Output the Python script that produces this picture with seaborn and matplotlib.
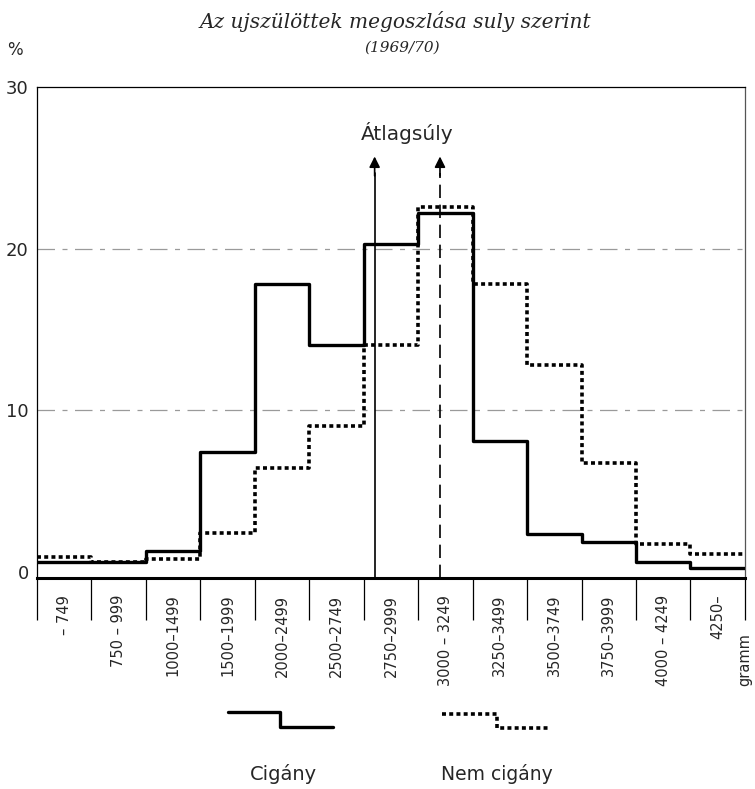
import numpy as np
import pandas as pd
import seaborn as sns
import matplotlib.pyplot as plt
from matplotlib.lines import Line2D

# weight classes (grams) and share of newborns (%)
categories = ["– 749", "750 – 999", "1000–1499", "1500–1999", "2000–2499",
              "2500–2749", "2750–2999", "3000 – 3249", "3250–3499",
              "3500–3749", "3750–3999", "4000 – 4249", "4250–"]
lower_edges = [0, 750, 1000, 1500, 2000, 2500, 2750, 3000, 3250, 3500, 3750, 4000, 4250, 4500]
cigany = [0.6, 0.6, 1.3, 7.4, 17.8, 14.0, 20.3, 22.2, 8.1, 2.3, 1.8, 0.6, 0.2]
nem_cigany = [0.9, 0.6, 0.8, 2.4, 6.4, 9.0, 14.0, 22.6, 17.8, 12.8, 6.7, 1.7, 1.1]
mean_weight = {"Cigány": 2800, "Nem cigány": 3100}
yticks = [0, 10, 20, 30]

sns.set_style("white")
plt.rcParams['font.family'] = ['DejaVu Sans']

pos = np.arange(len(categories) + 1)
df = pd.DataFrame({"pos": pos,
                   "cigany": cigany + [cigany[-1]],
                   "nem": nem_cigany + [nem_cigany[-1]]})

fig = plt.figure(figsize=(7.55, 7.89), dpi=100)
ax = fig.add_axes([0.049, 0.2674, 0.9377, 0.6223])

for y in yticks[1:3]:
    ax.axhline(y, color="#9a9a9a", lw=0.9, ls=(0, (14, 6, 4, 6)), zorder=1)

sns.lineplot(data=df, x="pos", y="nem", drawstyle="steps-post", color="k",
             lw=2.6, ls=(0, (1.1, 0.9)), ax=ax, zorder=3)
sns.lineplot(data=df, x="pos", y="cigany", drawstyle="steps-post", color="k",
             lw=2.4, ax=ax, zorder=4)

# mean weight arrows
def to_pos(g):
    return np.interp(g, lower_edges, pos)

arrow_top = 25.7
m1 = to_pos(mean_weight["Cigány"])
m2 = to_pos(mean_weight["Nem cigány"])
ax.plot([m1, m1], [-0.4, arrow_top - 1], color="k", lw=1.2, zorder=5)
ax.plot([m2, m2], [-0.4, arrow_top - 1], color="k", lw=1.2,
        ls=(0, (8, 4)), zorder=5)
for m in (m1, m2):
    ax.annotate("", xy=(m, arrow_top), xytext=(m, arrow_top - 1.2),
                arrowprops=dict(arrowstyle="-|>", color="k", lw=1.2,
                                mutation_scale=16, shrinkA=0, shrinkB=0))
ax.text((m1 + m2) / 2, 26.5, "Átlagsúly", ha="center", va="bottom", fontsize=14.5)

ax.set_xlim(0, len(categories))
ax.set_ylim(-0.4, 30)
ax.set_xlabel("")
ax.set_ylabel("")

ax.set_yticks(yticks)
ax.set_yticklabels([str(v) for v in yticks], fontsize=13)
ax.tick_params(axis="y", length=0, pad=6)

ax.set_xticks(pos)
ax.set_xticklabels([""] * len(pos))
ax.tick_params(axis="x", which="major", direction="out", length=30, width=0.9,
               color="k", bottom=True)
ax.set_xticks(pos[:-1] + 0.5, minor=True)
ax.set_xticklabels(categories, minor=True, rotation=90, fontsize=10.5,
                   va="top", ha="center")
ax.tick_params(axis="x", which="minor", length=0, pad=12)

for s in ["top", "left", "right"]:
    ax.spines[s].set_linewidth(0.9)
    ax.spines[s].set_color("k")
ax.spines["right"].set_color("#555555")
ax.spines["bottom"].set_linewidth(2.2)
ax.spines["bottom"].set_color("k")

fig.text(0.987, 1 - 660 / 789, "gramm", rotation=90, ha="center", va="center",
         fontsize=10.5)
fig.text(15 / 755, 1 - 50 / 789, "%", ha="center", va="center", fontsize=12)

fig.text(0.524, 1 - 22 / 789, "Az ujszülöttek megoszlása suly szerint",
         ha="center", va="center", fontsize=14.5, family="DejaVu Serif",
         style="italic")
fig.text(0.532, 1 - 48 / 789, "(1969/70)", ha="center", va="center",
         fontsize=11, family="DejaVu Serif", style="italic")

# hand-made legend
W, H = 755, 789
def fx(x):
    return x / W
def fy(y):
    return 1 - y / H
fig.add_artist(Line2D([fx(228), fx(280), fx(280), fx(333)],
                      [fy(712), fy(712), fy(727), fy(727)],
                      color="k", lw=2.4))
fig.add_artist(Line2D([fx(442), fx(497), fx(497), fx(550)],
                      [fy(714), fy(714), fy(728), fy(728)],
                      color="k", lw=2.6, ls=(0, (1.1, 0.9))))
fig.text(fx(283), fy(774), "Cigány", ha="center", va="center", fontsize=14)
fig.text(fx(497), fy(774), "Nem cigány", ha="center", va="center", fontsize=13.5)

fig.savefig("out.png", dpi=100)
